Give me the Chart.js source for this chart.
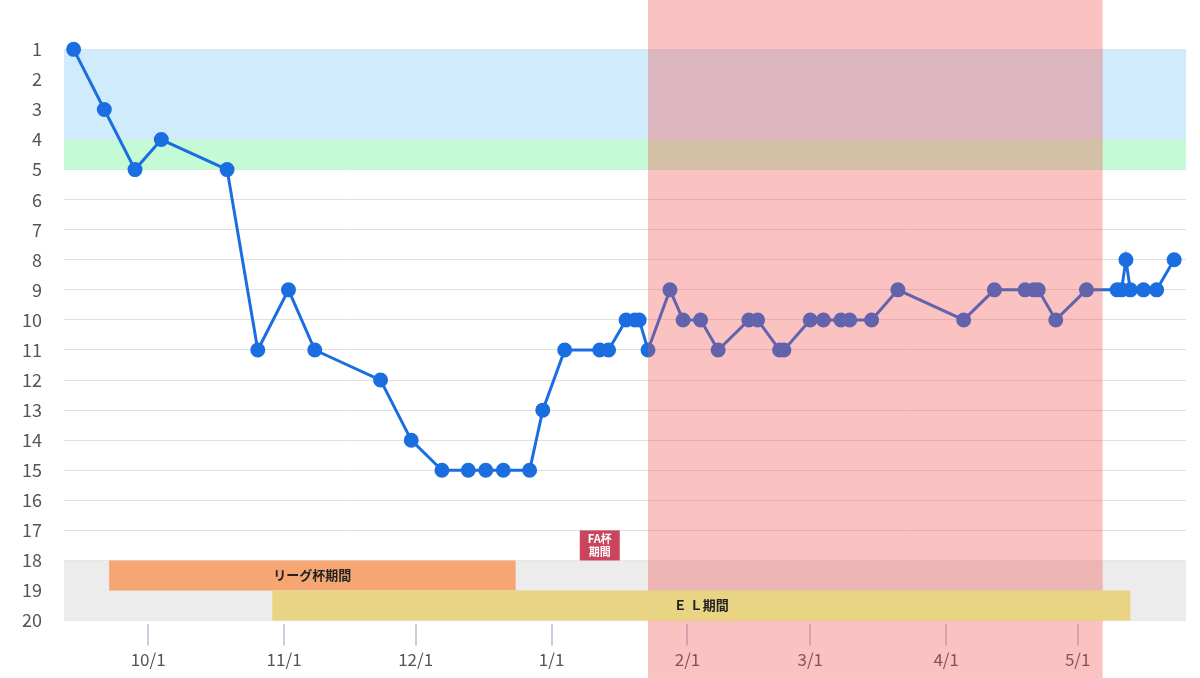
<!DOCTYPE html>
<html><head><meta charset="utf-8">
<script src="https://cdn.jsdelivr.net/npm/chart.js@4/dist/chart.umd.min.js"></script>
<style>html,body{margin:0;background:#fff}#wrap{width:1200px;height:678px}</style>
</head><body><div id="wrap"><canvas id="c"></canvas></div>
<script>
// days counted from 10/1
const days = [-17,-10,-3,3,18,25,32,38,53,60,67,73,77,81,87,90,95,103,105,109,111,112,114,119,122,126,130,137,139,144,145,151,154,158,160,165,171,186,193,200,202,203,207,214,221,222,223,224,227,230,234];
const ranks = [1,3,5,4,5,11,9,11,12,14,15,15,15,15,15,13,11,11,11,10,10,10,11,9,10,10,11,10,10,11,11,10,10,10,10,10,9,10,9,9,9,9,10,9,9,9,8,9,9,9,8];
const tickDays = [0,31,61,92,123,151,182,212];
const tickLabels = ['10/1','11/1','12/1','1/1','2/1','3/1','4/1','5/1'];
const redPeriod = [114, 217.7];
const leagueCup = {label:'リーグ杯期間', from:-8.9, to:83.8, rank:18};
const elPeriod = {label:'Ｅ Ｌ期間', from:28.3, to:224, rank:19};
const faCup = {label:['FA杯','期間'], at:103, rank:17};

const font = '"Noto Sans CJK JP", "Noto Sans", sans-serif';

const bg = {
  id:'bg',
  beforeDatasetsDraw(chart){
    const {ctx, chartArea:a, scales:{y}} = chart;
    const band = (r1, r2, col) => {
      ctx.fillStyle = col;
      ctx.fillRect(a.left, y.getPixelForValue(r1), a.right - a.left, y.getPixelForValue(r2) - y.getPixelForValue(r1));
    };
    band(1, 4, '#d0ebfb');
    band(4, 5, '#c4fad6');
    band(18, 20, '#ececec');
  },
  afterDraw(chart){
    const {ctx, scales:{x, y}} = chart;
    ctx.save();
    ctx.fillStyle = 'rgba(240,80,75,0.34)';
    const x1 = x.getPixelForValue(redPeriod[0]), x2 = x.getPixelForValue(redPeriod[1]);
    ctx.fillRect(x1, 0, x2 - x1, chart.height);
    const bar = (p, col) => {
      const l = x.getPixelForValue(p.from), r = x.getPixelForValue(p.to);
      const t = y.getPixelForValue(p.rank), b = y.getPixelForValue(p.rank + 1);
      ctx.fillStyle = col;
      ctx.fillRect(l, t, r - l, b - t);
      ctx.fillStyle = '#222';
      ctx.font = 'bold 13px ' + font;
      ctx.textAlign = 'center'; ctx.textBaseline = 'middle';
      ctx.fillText(p.label, (l + r) / 2, (t + b) / 2);
    };
    bar(leagueCup, '#f5a673');
    bar(elPeriod, '#e8d483');
    const cx = x.getPixelForValue(faCup.at);
    const t = y.getPixelForValue(faCup.rank), b = y.getPixelForValue(faCup.rank + 1);
    ctx.fillStyle = '#c8455d';
    ctx.fillRect(cx - 20, t, 40, b - t);
    ctx.fillStyle = '#fff';
    ctx.font = 'bold 11px ' + font;
    ctx.textAlign = 'center'; ctx.textBaseline = 'middle';
    ctx.fillText(faCup.label[0], cx, t + 8);
    ctx.fillText(faCup.label[1], cx, t + 21);
    ctx.restore();
  }
};

new Chart(document.getElementById('c'), {
  type: 'line',
  data: {
    datasets: [{
      data: days.map((d, i) => ({x: d, y: ranks[i]})),
      borderColor: '#1a6ee0', backgroundColor: '#1a6ee0',
      borderWidth: 3, pointRadius: 6, pointHoverRadius: 6, tension: 0
    }]
  },
  options: {
    responsive: true, maintainAspectRatio: false, animation: false,
    layout: {padding: {top: 0, right: 14, bottom: 4}},
    plugins: {legend: {display: false}, tooltip: {enabled: false}},
    scales: {
      x: {
        type: 'linear', min: -19.2, max: 236.7,
        afterBuildTicks: s => { s.ticks = tickDays.map(v => ({value: v})); },
        ticks: {
          callback: v => tickLabels[tickDays.indexOf(v)] || '',
          color: '#555', font: {size: 17, family: font}, padding: 4, maxRotation: 0, autoSkip: false
        },
        grid: {drawOnChartArea: false, drawTicks: true, tickLength: 22, color: '#c5cfdd', lineWidth: 2},
        border: {display: false}
      },
      y: {
        reverse: true, min: 0.45, max: 20.1,
        afterBuildTicks: s => { s.ticks = Array.from({length: 20}, (_, i) => ({value: i + 1})); },
        ticks: {color: '#555', font: {size: 18, family: font}, padding: 22},
        grid: {color: '#e0e0e0', drawTicks: false},
        border: {display: false}
      }
    }
  },
  plugins: [bg]
});
</script></body></html>
